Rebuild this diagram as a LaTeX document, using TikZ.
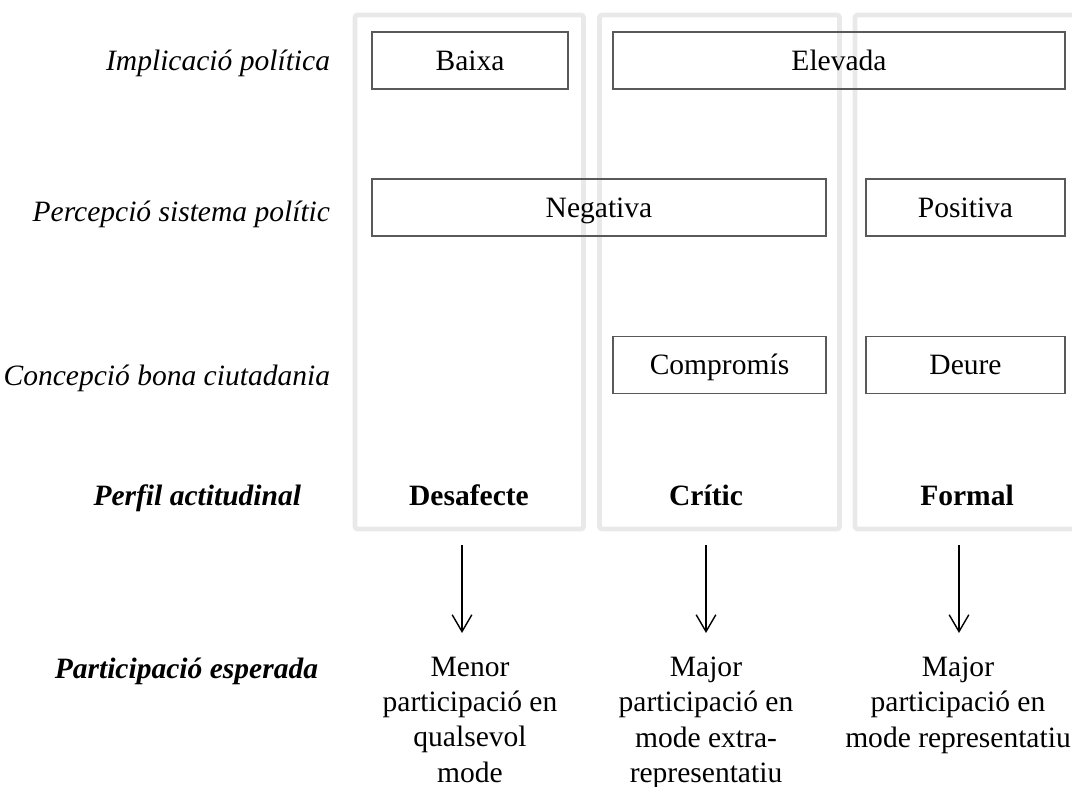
\documentclass[tikz,border=0pt]{standalone}
\usepackage{fontspec}
\setmainfont{Liberation Serif}
\usetikzlibrary{arrows.meta, positioning}

\begin{document}
\begin{tikzpicture}[
        x=0.025cm, y=-0.025cm,
        font=\fontsize{21}{25}\selectfont,
        column/.style={draw=gray!17, line width=3.5pt, rounded corners=2pt},
        cell/.style={rectangle, draw=black!65, line width=1.3pt, minimum height=1.425cm,
                     inner sep=0pt, text height=13.8pt, text depth=0pt, text centered},
        rowlabel/.style={anchor=base east, font=\fontsize{21}{25}\selectfont\itshape},
        keylabel/.style={anchor=base east, font=\fontsize{21}{25}\selectfont\bfseries\itshape},
        profile/.style={anchor=base, font=\fontsize{21}{25}\selectfont\bfseries},
        outcome/.style={anchor=north, align=center, inner sep=0pt},
        arrow/.style={line width=1pt, -{Straight Barb[length=12pt, width=14pt]}}
    ]
        \useasboundingbox (0,0) rectangle (1072,787);

        % columns
        \draw[column] (355,15) rectangle (583.5,529);
        \draw[column] (599.5,15) rectangle (839.5,529);
        \draw[column] (855,15) rectangle (1100,529);

        % row labels
        \node[rowlabel] (implicacio) at (335,71) {Implicació política};
        \node[rowlabel] (percepcio) at (335,222) {Percepció sistema polític};
        \node[rowlabel] (concepcio) at (335,385) {Concepció bona ciutadania};
        \node[keylabel] (perfil) at (306,505) {Perfil actitudinal};
        \node[keylabel] (esperada) at (323,678) {Participació esperada};

        % cells
        \node[cell, minimum width=4.9cm] (baixa) at (470,60.5) {Baixa};
        \node[cell, minimum width=11.3cm] (elevada) at (839,60.5) {Elevada};
        \node[cell, minimum width=11.35cm] (negativa) at (599,207.5) {Negativa};
        \node[cell, minimum width=4.975cm] (positiva) at (965.5,207.5) {Positiva};
        \node[cell, minimum width=5.325cm] (compromis) at (719.5,365) {Compromís};
        \node[cell, minimum width=4.975cm] (deure) at (965.5,365) {Deure};

        % profiles
        \node[profile] (desafecte) at (469,505) {Desafecte};
        \node[profile] (critic) at (706,505) {Crític};
        \node[profile] (formal) at (967,505) {Formal};

        % expected participation
        \node[outcome] (menor) at (470,657) {Menor\\participació en\\qualsevol\\mode};
        \node[outcome] (extra) at (706,657) {Major\\participació en\\mode extra-\\representatiu};
        \node[outcome] (repr) at (958,657) {Major\\participació en\\mode representatiu};

        \coordinate (desafecte-out) at (462,545);
        \coordinate (critic-out) at (706,545);
        \coordinate (formal-out) at (959,545);
        \coordinate (menor-in) at (462,633);
        \coordinate (extra-in) at (706,633);
        \coordinate (repr-in) at (959,633);

        \draw[arrow] (desafecte-out) -- (menor-in);
        \draw[arrow] (critic-out) -- (extra-in);
        \draw[arrow] (formal-out) -- (repr-in);
\end{tikzpicture}
\end{document}
